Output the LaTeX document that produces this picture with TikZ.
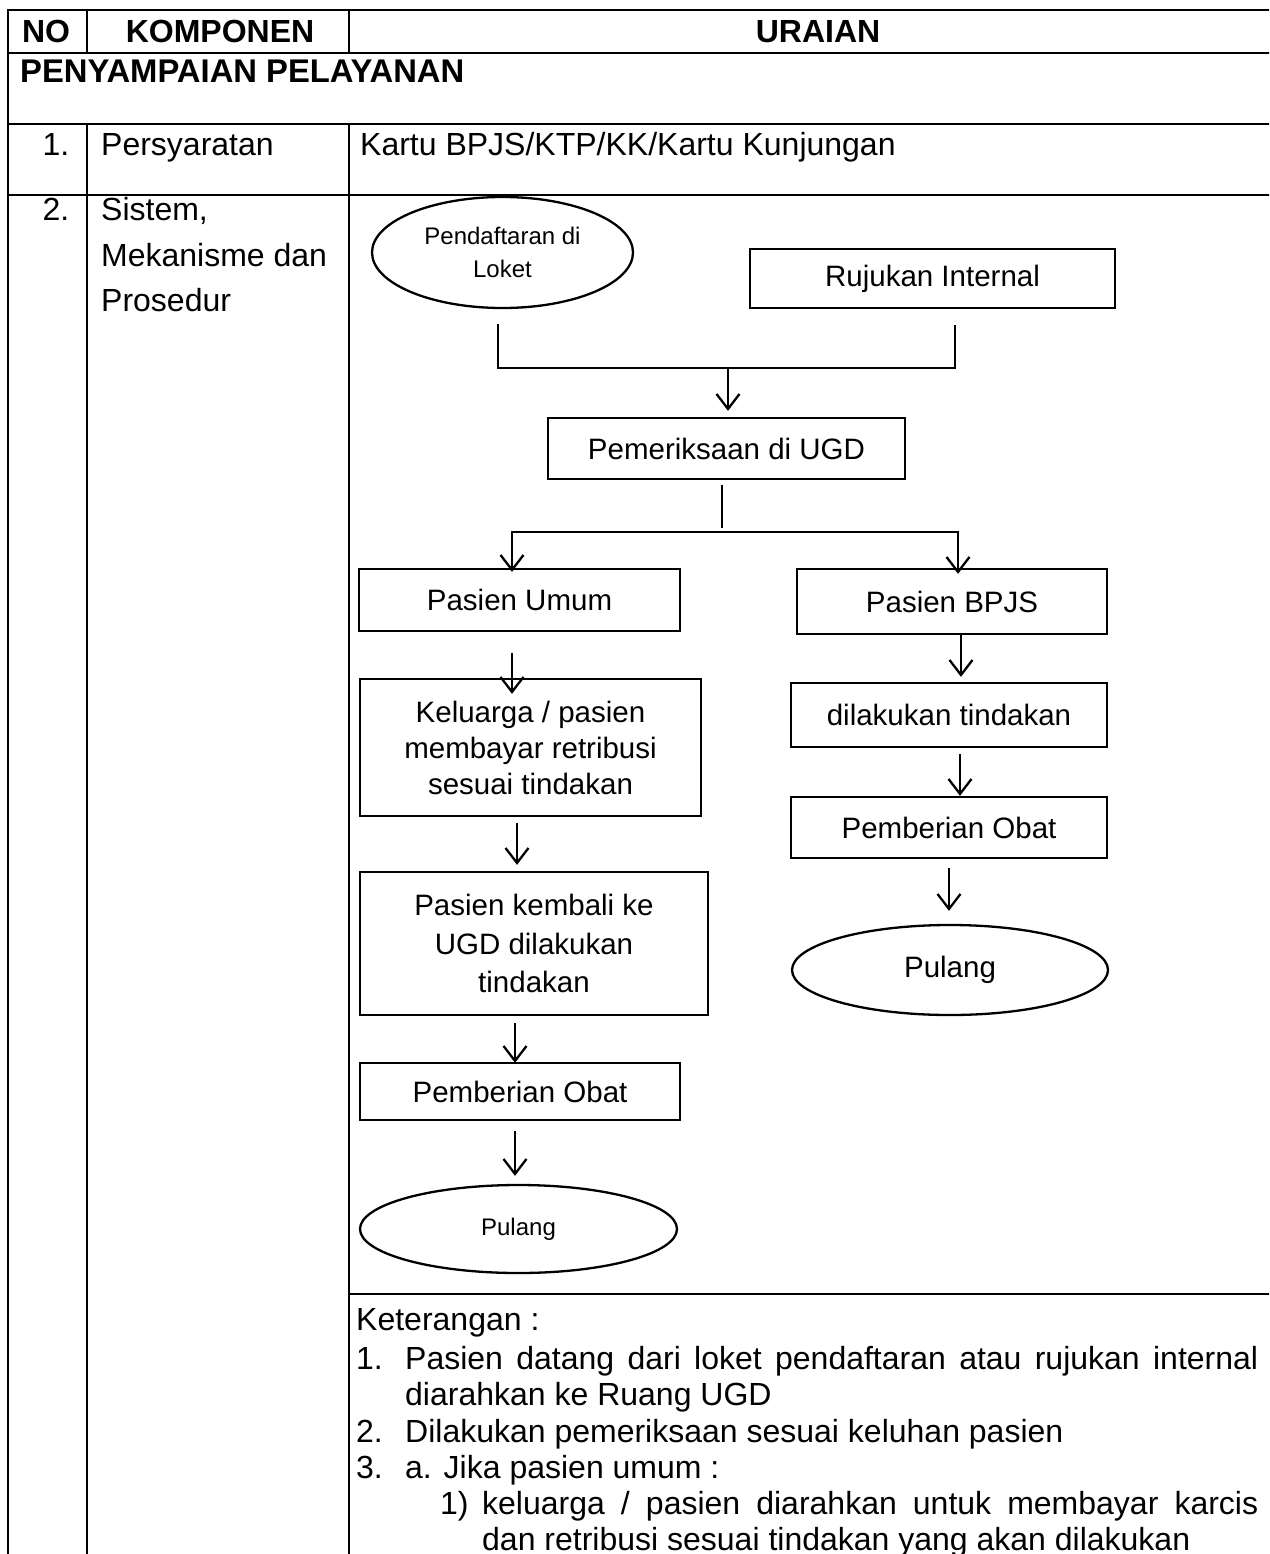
\documentclass[tikz,border=0pt]{standalone}
\usepackage{fontspec}
\setmainfont{Liberation Sans}
\usetikzlibrary{shapes.geometric,arrows.meta,calc}

\begin{document}
\begin{tikzpicture}[x=1pt,y=-1pt,
  grid/.style={line width=2.8pt, line cap=rect},
  flow/.style={draw, line width=2.3pt, inner sep=0pt, align=center,
               font=\fontsize{29.5}{36}\selectfont},
  oval/.style={flow, ellipse},
  link/.style={line width=2.3pt},
  arr/.style={link, -{Straight Barb[length=15pt,width=23pt]}},
  hd/.style={font=\fontsize{32}{38}\selectfont\bfseries, inner sep=0pt, anchor=base},
  tx/.style={font=\fontsize{32}{38}\selectfont, inner sep=0pt, anchor=base west},
  num/.style={font=\fontsize{32}{38}\selectfont, inner sep=0pt, anchor=base},
]
\useasboundingbox (0,0) rectangle (1269,1554);
\clip (0,0) rectangle (1269,1554);
\fill[white] (0,0) rectangle (1269,1554);

% table rules
\draw[grid] (8,10) -- (1290,10);
\draw[grid] (8,53) -- (1290,53);
\draw[grid] (8,124) -- (1290,124);
\draw[grid] (8,195) -- (1290,195);
\draw[grid] (8,10) -- (8,1570);
\draw[grid] (87,10) -- (87,53);
\draw[grid] (87,124) -- (87,1570);
\draw[grid] (349,10) -- (349,53);
\draw[grid] (349,124) -- (349,1570);
\draw[grid] (349,1294) -- (1290,1294);

% header and first rows
\node[hd] (hno) at (46,43) {NO};
\node[hd] (hkomp) at (220,43) {KOMPONEN};
\node[hd] (hurai) at (818,43) {URAIAN};
\node[hd, anchor=base west, font=\fontsize{32.8}{38}\selectfont\bfseries] (sect) at (20,83) {PENYAMPAIAN PELAYANAN};
\node[num] (n1) at (56,156) {1.};
\node[tx] (c1) at (101,156) {Persyaratan};
\node[tx] (u1) at (360,156) {Kartu BPJS/KTP/KK/Kartu Kunjungan};
\node[num] (n2) at (56,221) {2.};
\node[tx] (c2a) at (101,221) {Sistem,};
\node[tx] (c2b) at (101,266) {Mekanisme dan};
\node[tx] (c2c) at (101,311) {Prosedur};

% flowchart nodes
\node[oval, minimum width=261pt, minimum height=111pt,
      font=\fontsize{24}{33}\selectfont] (pend) at (502.5,252.5) {Pendaftaran di\\Loket};
\node[flow, minimum width=365pt, minimum height=59pt] (ruj) at (932.5,278.5) {Rujukan Internal};
\node[flow, minimum width=357pt, minimum height=61pt] (pem) at (726.5,448.5) {Pemeriksaan di UGD};
\node[flow, minimum width=321pt, minimum height=62pt] (umum) at (519.5,600) {Pasien Umum};
\node[flow, minimum width=341pt, minimum height=137pt] (kel) at (530.5,747.5)
      {Keluarga / pasien\\membayar retribusi\\sesuai tindakan};
\node[flow, minimum width=348pt, minimum height=143pt, font=\fontsize{29.5}{38.5}\selectfont]
      (kembali) at (534,943.5) {Pasien kembali ke\\UGD dilakukan\\tindakan};
\node[flow, minimum width=320pt, minimum height=57pt] (obatL) at (520,1091.5) {Pemberian Obat};
\node[oval, minimum width=317pt, minimum height=88pt,
      font=\fontsize{24}{30}\selectfont] (pulL) at (518.5,1229) {Pulang};
\node[flow, minimum width=310pt, minimum height=65pt] (bpjs) at (952,601.5) {Pasien BPJS};
\node[flow, minimum width=316pt, minimum height=64pt] (tind) at (949,715) {dilakukan tindakan};
\node[flow, minimum width=316pt, minimum height=61pt] (obatR) at (949,827.5) {Pemberian Obat};
\node[oval, minimum width=316pt, minimum height=90pt] (pulR) at (950,970) {Pulang};

% connectors
\coordinate (merge) at (728,368);
\coordinate (split) at (735,532);
\draw[link] ([xshift=-4.5pt,yshift=-15pt]pend.south) |- (merge)
            -| ([xshift=22.5pt,yshift=-16pt]ruj.south);
\draw[arr] (merge) -- ([xshift=1.5pt,yshift=6pt]pem.north);
\draw[link] ([xshift=-4.5pt,yshift=-5pt]pem.south) -- ++(0,43);
\draw[arr] (split) -| ([xshift=-7.5pt,yshift=-4pt]umum.north);
\draw[arr] (split) -| ([xshift=6pt,yshift=-6pt]bpjs.north);

\draw[arr] ([xshift=-7.5pt,yshift=-21pt]umum.south) -- ([xshift=-18.5pt,yshift=-16pt]kel.north);
\draw[arr] ([xshift=-13.5pt,yshift=-6pt]kel.south) -- ([xshift=-17pt,yshift=6pt]kembali.north);
\draw[arr] ([xshift=-19pt,yshift=-7pt]kembali.south) -- ([xshift=-5pt,yshift=-1pt]obatL.north);
\draw[arr] ([xshift=-5pt,yshift=-10pt]obatL.south) -- ([xshift=-3.5pt,yshift=8pt]pulL.north);

\draw[arr] ([xshift=9pt]bpjs.south) -- ([xshift=12pt,yshift=5pt]tind.north);
\draw[arr] ([xshift=11pt,yshift=-6pt]tind.south) -- ([xshift=11pt]obatR.north);
\draw[arr] ([yshift=-9pt]obatR.south) -- ([xshift=-1pt,yshift=13pt]pulR.north);

% notes below the chart
\node[tx] (ket) at (356,1330) {Keterangan :};
\node[tx] (k1n) at (356,1369) {1.};
\node[tx] (k1) at (405,1369) {\makebox[853pt][s]{Pasien datang dari loket pendaftaran atau rujukan internal}};
\node[tx] (k1b) at (405,1405) {diarahkan ke Ruang UGD};
\node[tx] (k2n) at (356,1442) {2.};
\node[tx] (k2) at (405,1442) {Dilakukan pemeriksaan sesuai keluhan pasien};
\node[tx] (k3n) at (356,1478) {3.};
\node[tx] (k3) at (405,1478) {a. Jika pasien umum :};
\node[tx] (k31n) at (440,1514) {1)};
\node[tx] (k31) at (482,1514) {\makebox[776pt][s]{keluarga / pasien diarahkan untuk membayar karcis}};
\node[tx] (k31b) at (482,1550) {dan retribusi sesuai tindakan yang akan dilakukan};
\end{tikzpicture}
\end{document}
